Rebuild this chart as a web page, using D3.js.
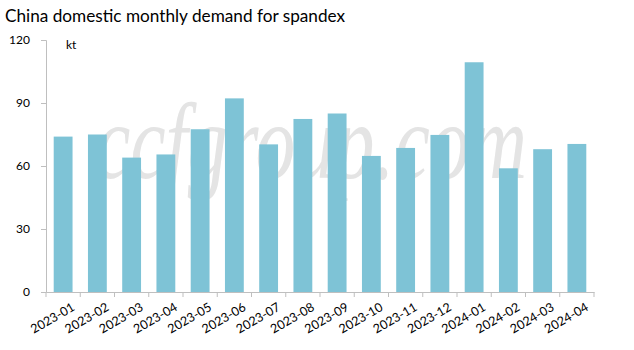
<!DOCTYPE html>
<html><head><meta charset="utf-8">
<script src="https://cdn.jsdelivr.net/npm/d3@7"></script>
<style>body{margin:0;background:#fff}svg{display:block}</style>
</head><body>
<svg id="c" width="634" height="350"></svg>
<script>
const categories = ["2023-01","2023-02","2023-03","2023-04","2023-05","2023-06","2023-07","2023-08","2023-09","2023-10","2023-11","2023-12","2024-01","2024-02","2024-03","2024-04"];
const demand = [74, 75, 64, 65.5, 77.5, 92.2, 70.3, 82.4, 85, 64.8, 68.6, 74.8, 109.4, 58.9, 68, 70.5];
const yTicks = [0, 30, 60, 90, 120];
const title = "China domestic monthly demand for spandex";
const unit = "kt";
const watermark = "ccfgroup.com";

const svg = d3.select("#c");
const m = {l:46, r:40, t:40, b:58};
const W = 634, H = 350;
const x = d3.scaleBand().domain(categories).range([m.l, W - m.r]).paddingInner(0.45).paddingOuter(0.225);
const y = d3.scaleLinear().domain([0, 120]).range([H - m.b, m.t]);
const font = "Lato, 'Open Sans', sans-serif";

svg.append("text").attr("x", 5).attr("y", 22).attr("font-family", font).attr("font-size", 17.2)
  .attr("fill", "#000").text(title);

// watermark, drawn behind the bars
const wm = svg.append("text").attr("font-family", "'Liberation Serif', serif")
  .attr("font-style", "italic").attr("font-size", 108).attr("fill", "#e4e4e4").text(watermark);
const wmW = wm.node().getComputedTextLength();
wm.attr("transform", `translate(95,178) scale(${432 / wmW},1)`);

svg.append("g").selectAll("rect").data(demand).join("rect")
  .attr("x", (d, i) => x(categories[i])).attr("width", x.bandwidth())
  .attr("y", d => y(d)).attr("height", d => y(0) - y(d))
  .attr("fill", "#7ec3d6");

const ya = svg.append("g").attr("transform", `translate(${m.l},0)`)
  .call(d3.axisLeft(y).tickValues(yTicks).tickSize(5).tickPadding(11));
ya.select(".domain").attr("stroke", "#bfbfbf");
ya.selectAll(".tick line").attr("stroke", "#bfbfbf");
ya.selectAll(".tick text").attr("font-family", font).attr("font-size", 12).attr("fill", "#000");

const xa = svg.append("g").attr("transform", `translate(0,${y(0)})`)
  .call(d3.axisBottom(x).tickSize(0).tickSizeOuter(0));
xa.select(".domain").attr("stroke", "#bfbfbf");
xa.selectAll(".tick line").remove();
xa.selectAll(".tick text").attr("font-family", font).attr("font-size", 12.5).attr("fill", "#000")
  .attr("text-anchor", "end").attr("transform", "translate(8,10) rotate(-30)").attr("dy", "0.71em").attr("y", 0);
// boundary ticks between categories
const bounds = categories.map(c => x(c) - x.step() * x.paddingInner() / 2).concat([W - m.r]);
svg.append("g").selectAll("line").data(bounds).join("line")
  .attr("x1", d => d).attr("x2", d => d).attr("y1", y(0)).attr("y2", y(0) + 5)
  .attr("stroke", "#bfbfbf");

svg.append("text").attr("x", 66).attr("y", 49).attr("font-family", font).attr("font-size", 12)
  .attr("fill", "#000").text(unit);
</script>
</body></html>
